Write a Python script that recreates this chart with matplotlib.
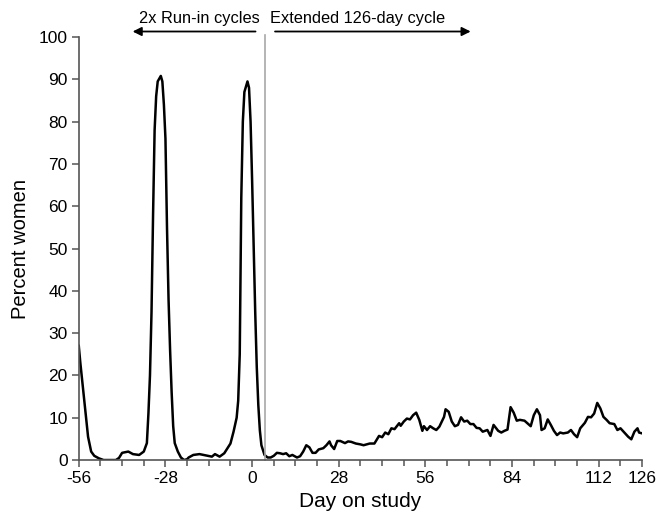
import matplotlib

matplotlib.use("Agg")
import matplotlib.pyplot as plt
from matplotlib.ticker import FixedLocator, MultipleLocator

plt.rcParams["font.family"] = ["Liberation Sans", "DejaVu Sans"]
plt.rcParams["axes.unicode_minus"] = False

# percent of women with bleeding/spotting
days = [
    -56, -55.5, -54, -53, -52, -51, -49.5, -48, -46, -44, -43, -42, -40, -38.5, -36.5,
    -35, -34, -33.5, -33, -32.5, -32, -31.5, -31, -30.5, -29.5, -29, -28.5, -28, -27.5,
    -27, -26.5, -26, -25.5, -25, -24, -23, -22, -21, -20.5, -19, -17, -15, -13, -12,
    -10.5, -9, -7, -6, -5, -4.5, -4, -3.5, -3, -2.5, -1.5, -1, -0.5, 0, 0.5, 1, 1.5,
    2, 2.5, 3, 4, 5, 6, 7, 8, 9, 10, 11, 12, 13, 14.5, 15.5, 16.5, 17.5, 18.5, 19.5,
    20.5, 21.5, 23, 24, 25, 25.5, 26.5, 27.5, 28.5, 30, 31, 32, 33.5, 35, 36, 38, 39.5,
    41, 42, 43, 44, 45, 46, 47.5, 48, 49, 50, 51, 52, 53, 54, 55, 55.5, 56.5, 57.5,
    58.5, 59.5, 60.5, 62, 62.5, 63.5, 64.5, 65.5, 66.5, 67.5, 68.5, 69.5, 70.5, 71.5,
    72.5, 73.5, 74.5, 76, 77, 78, 79.5, 80.5, 81.5, 82.5, 83.5, 84.5, 85.5, 86.5, 88,
    90, 91, 92, 93, 93.5, 94.5, 95.5, 96.5, 97.5, 98.5, 99.5, 100.5, 102, 103, 104,
    105, 106, 107.5, 108.5, 109.5, 110.5, 111.5, 112.5, 113.5, 114.5, 115.5, 117, 118,
    119, 120, 121.5, 122.5, 123.5, 124.5, 125, 126,
]
percent = [
    27, 23, 12.6, 5.5, 2, 1, 0.4, 0, 0, 0, 0.5, 1.7, 2, 1.4, 1.2,
    2, 4, 11, 20, 35, 58, 78, 86, 89.5, 90.8, 89.5, 84, 76, 55,
    38, 26, 16, 8, 4, 2, 0.6, 0, 0.2, 0.6, 1.2, 1.4, 1.1, 0.8, 1.4,
    0.8, 1.6, 3.9, 6.7, 10, 14, 25, 62, 80, 87, 89.5, 88, 80, 66, 50, 35, 22,
    13, 7, 3.5, 1.2, 0.6, 0.6, 1, 1.7, 1.6, 1.4, 1.6, 0.9, 1.2, 0.6, 0.9, 2, 3.5, 3, 1.7,
    1.7, 2.5, 2.8, 3.5, 4.4, 3.5, 2.6, 4.5, 4.5, 4, 4.4, 4.3, 3.9, 3.7, 3.5, 3.9, 3.9,
    5.7, 5.4, 6.5, 6.1, 7.5, 7.3, 8.7, 8.1, 9.1, 9.8, 9.6, 10.6, 11.2, 9.5, 6.9, 8, 7.1, 8,
    7.5, 7.1, 7.9, 10.2, 12, 11.4, 9.1, 8, 8.3, 10.1, 9.1, 9.3, 8.5, 8.5,
    7.6, 7.5, 6.7, 7.1, 5.7, 8.3, 6.9, 6.5, 6.9, 7.2, 12.5, 11.2, 9.3, 9.5, 9.3,
    8, 10.6, 12, 10.6, 7.1, 7.5, 9.6, 8.3, 6.9, 5.9, 6.5, 6.3, 6.5, 7.1, 6.1,
    5.4, 7.5, 8.8, 10.2, 10.1, 11, 13.5, 12.2, 10.2, 9.5, 8.7, 8.5, 7.1,
    7.5, 6.7, 5.5, 4.9, 6.7, 7.5, 6.5, 6.3,
]

major_days = [-56, -28, 0, 28, 56, 84, 112, 126]
cycle_start = 4
run_in_label = "2x Run-in cycles"
extended_label = "Extended 126-day cycle"


def main():
    fig = plt.figure(figsize=(6.62, 5.14), dpi=100)
    ax = fig.add_axes([0.119, 0.105, 0.851, 0.823])

    ax.plot(days, percent, color="black", linewidth=1.8, solid_joinstyle="round")
    ax.plot([cycle_start, cycle_start], [0, 100.4], color="#a8a8a8", linewidth=1.2, clip_on=False)

    ax.set_xlim(-56, 126)
    ax.set_ylim(0, 100)
    ax.xaxis.set_major_locator(FixedLocator(major_days))
    ax.xaxis.set_minor_locator(MultipleLocator(7))
    ax.yaxis.set_major_locator(MultipleLocator(10))

    for side in ("top", "right"):
        ax.spines[side].set_visible(False)
    for side in ("left", "bottom"):
        ax.spines[side].set_color("#555555")
        ax.spines[side].set_linewidth(1.2)
    ax.tick_params(which="major", length=5, width=1.1, color="#555555", labelsize=12.5, pad=3)
    ax.tick_params(which="minor", length=4, width=1.1, color="#555555")

    ax.set_xlabel("Day on study", fontsize=15, labelpad=4)
    ax.set_ylabel("Percent women", fontsize=14.5, labelpad=6)

    arrow = dict(arrowstyle="-|>", color="black", linewidth=1.3, mutation_scale=13)
    ax.annotate("", xy=(-39.5, 101.3), xytext=(2, 101.3), arrowprops=arrow, annotation_clip=False)
    ax.annotate("", xy=(71.5, 101.3), xytext=(6.5, 101.3), arrowprops=arrow, annotation_clip=False)
    ax.text(2.6, 104.4, run_in_label, ha="right", va="center", fontsize=11.8, clip_on=False)
    ax.text(5.8, 104.4, extended_label, ha="left", va="center", fontsize=11.8, clip_on=False)

    fig.savefig("out.png")
    plt.close(fig)


if __name__ == "__main__":
    main()
